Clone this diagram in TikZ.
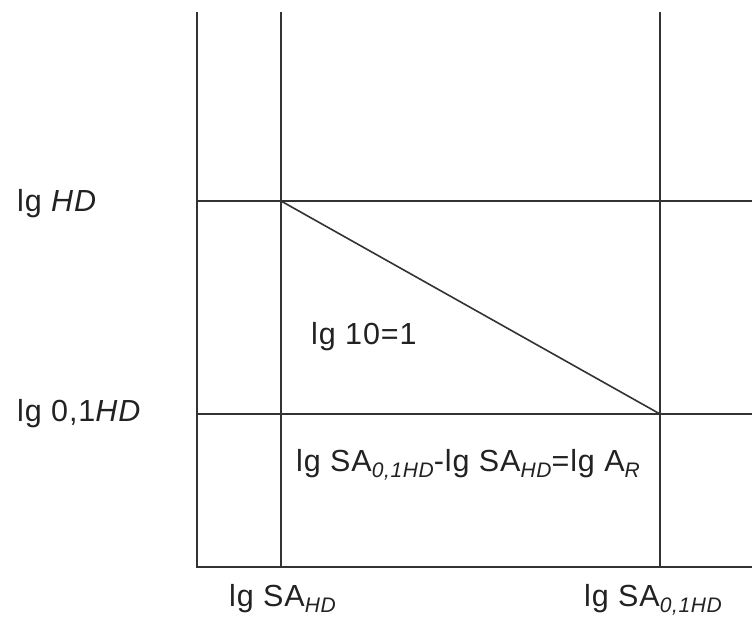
\documentclass[tikz,border=0pt]{standalone}
\usepackage{fontspec}
\setmainfont{Liberation Sans}[LetterSpace=3]
\usetikzlibrary{positioning}

\newcommand{\subtxt}[1]{\raisebox{-0.4ex}{\fontsize{21}{22}\selectfont\itshape #1}}

\begin{document}
\begin{tikzpicture}[x=1pt, y=-1pt]
    \definecolor{lineColour}{HTML}{333333}
    \definecolor{textColour}{HTML}{222222}
    \tikzset{
        gridline/.style={draw=lineColour, line width=2pt},
        lbl/.style={font=\fontsize{30.5}{34}\selectfont, inner sep=0pt, anchor=base west, text=textColour}
    }
    \useasboundingbox (0,0) rectangle (752,622);

    \def\topY{12}
    \def\rightX{752}

    % Corner points of the diagram
    \coordinate (O) at (197,567);   % origin
    \coordinate (P) at (281,201);   % upper corner
    \coordinate (Q) at (660,414);   % lower corner

    % Axes
    \draw[gridline] (197,\topY) -- (O) -- (\rightX,567);

    % Vertical lines
    \draw[gridline] (281,\topY) -- (281,567);
    \draw[gridline] (660,\topY) -- (660,567);

    % Horizontal lines
    \draw[gridline] (197,201) -- (\rightX,201);
    \draw[gridline] (197,414) -- (\rightX,414);

    % Slope
    \draw[gridline, line width=1.6pt] (P) -- (Q);

    % Labels
    \node[lbl] (hd) at (17,211) {lg \textit{HD}};
    \node[lbl] (hd01) at (17,421) {lg 0,1\textit{HD}};
    \node[lbl] (ten) at (311,344) {lg 10=1};
    \node[lbl] (ar) at (296,471) {lg SA\subtxt{0,1HD}-lg SA\subtxt{HD}=lg A\subtxt{R}};
    \node[lbl] (sahd) at (229,606) {lg SA\subtxt{HD}};
    \node[lbl] (sa01) at (584,606) {lg SA\subtxt{0,1HD}};
\end{tikzpicture}
\end{document}
